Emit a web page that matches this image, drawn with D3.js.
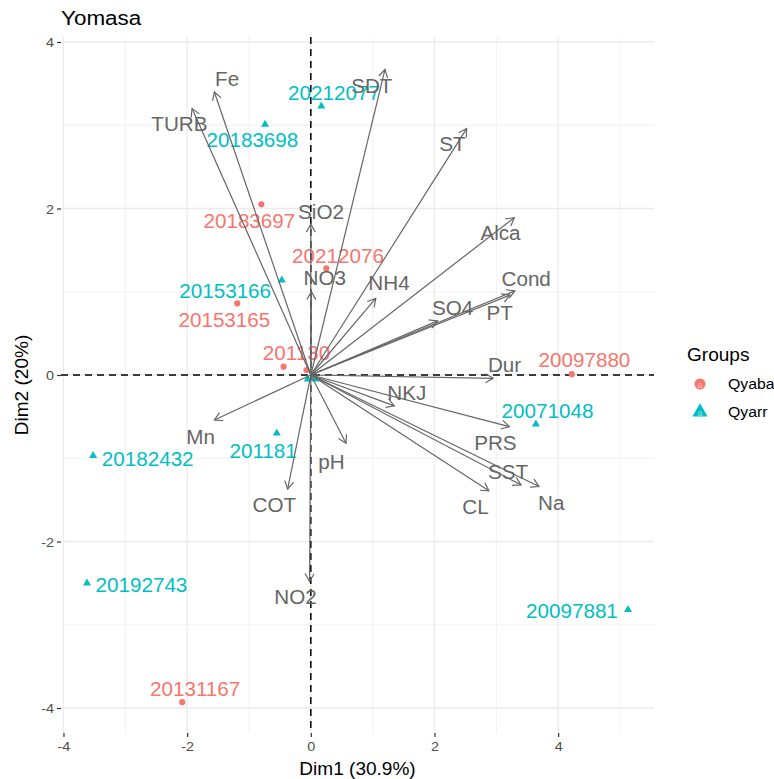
<!DOCTYPE html>
<html>
<head>
<meta charset="utf-8">
<script src="https://cdn.jsdelivr.net/npm/d3@7"></script>
<style>
  html, body { margin: 0; padding: 0; background: #ffffff; }
  svg { display: block; font-family: "Liberation Sans", Arial, sans-serif; }
</style>
</head>
<body>
<svg id="chart" width="774" height="779"></svg>
<script>
// ---- Individuals (PCA scores) ----
const indIds    = ["20212077","20183698","20183697","20212076","20153166","20153165","201130","","","","20097880","20071048","201181","20182432","20192743","20097881","20131167"];
const indGroup  = ["Qyarr","Qyarr","Qyaba","Qyaba","Qyarr","Qyaba","Qyaba","Qyaba","Qyarr","Qyarr","Qyaba","Qyarr","Qyarr","Qyarr","Qyarr","Qyarr","Qyaba"];
const indDim1   = [0.17,-0.74,-0.80,0.25,-0.47,-1.19,-0.44,-0.07,-0.05,0.07,4.22,3.64,-0.55,-3.52,-3.62,5.13,-2.08];
const indDim2   = [3.23,3.01,2.05,1.28,1.14,0.86,0.10,0.06,-0.05,-0.05,0.01,-0.59,-0.70,-0.97,-2.50,-2.82,-3.93];
// repelled label anchors for the individuals (same units as the scores)
const indLabDim1 = [0.375,-0.945,-0.994,0.44,-1.385,-1.398,-0.231,0,0,0,4.425,3.827,-0.771,-2.638,-2.739,4.223,-1.871];
const indLabDim2 = [3.386,2.816,1.851,1.427,1.007,0.658,0.259,0,0,0,0.178,-0.434,-0.911,-1.01,-2.531,-2.832,-3.776];

// ---- Variables (scaled loadings) ----
const varNames  = ["Fe","TURB","SDT","SiO2","ST","Alca","Cond","PT","SO4","NH4","NO3","Dur","NKJ","PRS","SST","Na","CL","Mn","pH","COT","NO2"];
const varDim1   = [-1.56,-1.92,1.20,0.00,2.52,3.29,3.30,3.22,2.05,1.05,0.01,2.95,1.35,3.21,3.40,3.69,2.88,-1.56,0.57,-0.375,-0.02];
const varDim2   = [3.40,3.20,3.67,1.81,2.96,1.89,1.01,0.96,0.65,0.92,1.00,-0.04,-0.37,-0.62,-1.32,-1.34,-1.39,-0.54,-0.82,-1.37,-2.48];
const varLabDim1 = [-1.354,-2.125,0.986,0.165,2.292,3.068,3.483,3.055,2.292,1.264,0.226,3.133,1.551,2.985,3.19,3.887,2.664,-1.781,0.334,-0.59,-0.247];
const varLabDim2 = [3.551,3.008,3.468,1.959,2.772,1.699,1.151,0.746,0.799,1.099,1.159,0.118,-0.214,-0.815,-1.163,-1.535,-1.591,-0.742,-1.043,-1.563,-2.671];

// ---- Axes ----
const xTicks = [-4,-2,0,2,4];
const yTicks = [-4,-2,0,2,4];
const xMinor = [-3,-1,1,3,5];
const yMinor = [-3,-1,1,3];
const groups = ["Qyaba","Qyarr"];
const groupColors = ["#F8766D","#00BFC4"];

const titleText = "Yomasa";
const xTitle = "Dim1 (30.9%)";
const yTitle = "Dim2 (20%)";

// ---- Layout ----
const panel = {left: 61, right: 654, top: 37, bottom: 733};
const SX = 1.07; // horizontal glyph stretch of the text

const svg = d3.select("#chart");
const x = d3.scaleLinear().domain([-4.04, 5.55]).range([panel.left, panel.right]);
const y = d3.scaleLinear().domain([-4.30, 4.06]).range([panel.bottom, panel.top]);
const color = d3.scaleOrdinal().domain(groups).range(groupColors);
const shape = d3.scaleOrdinal().domain(groups).range([d3.symbolCircle, d3.symbolTriangle]);

function addText(g, tx, ty, str, opts) {
  const t = g.append("text")
    .attr("transform", `translate(${tx},${ty}) scale(${SX},1)`)
    .attr("text-anchor", opts.anchor || "middle")
    .attr("dy", opts.dy || "0.35em")
    .attr("font-size", opts.size)
    .attr("fill", opts.fill || "#000")
    .text(str);
  return t;
}

// grid
const grid = svg.append("g");
grid.selectAll(".gxm").data(xMinor).join("line")
  .attr("x1", d => x(d)).attr("x2", d => x(d)).attr("y1", panel.top).attr("y2", panel.bottom)
  .attr("stroke", "#EBEBEB").attr("stroke-width", 0.7);
grid.selectAll(".gym").data(yMinor).join("line")
  .attr("y1", d => y(d)).attr("y2", d => y(d)).attr("x1", panel.left).attr("x2", panel.right)
  .attr("stroke", "#EBEBEB").attr("stroke-width", 0.7);
grid.selectAll(".gx").data(xTicks).join("line")
  .attr("x1", d => x(d)).attr("x2", d => x(d)).attr("y1", panel.top).attr("y2", panel.bottom)
  .attr("stroke", "#EBEBEB").attr("stroke-width", 1.3);
grid.selectAll(".gy").data(yTicks).join("line")
  .attr("y1", d => y(d)).attr("y2", d => y(d)).attr("x1", panel.left).attr("x2", panel.right)
  .attr("stroke", "#EBEBEB").attr("stroke-width", 1.3);

// axes (plain hyphen for negative tick labels)
const fmt = d => String(d);
const xAxis = svg.append("g").attr("transform", `translate(0,${panel.bottom})`)
  .call(d3.axisBottom(x).tickValues(xTicks).tickSize(4).tickPadding(4).tickFormat(fmt));
const yAxis = svg.append("g").attr("transform", `translate(${panel.left},0)`)
  .call(d3.axisLeft(y).tickValues(yTicks).tickSize(4).tickPadding(3).tickFormat(fmt));
[xAxis, yAxis].forEach(a => {
  a.select(".domain").remove();
  a.selectAll(".tick line").attr("stroke", "#333333").attr("stroke-width", 1.2);
  a.selectAll(".tick text").attr("fill", "#4D4D4D").attr("font-size", 13.5)
    .attr("font-family", "Liberation Sans, Arial, sans-serif");
});
xAxis.selectAll(".tick text").attr("transform", `scale(${SX},1)`);
yAxis.selectAll(".tick text").each(function() {
  const t = d3.select(this);
  t.attr("transform", `translate(${-7},0) scale(${SX},1)`).attr("x", 0).attr("dy", "0.35em");
});

// reference lines through the origin
const ref = svg.append("g");
ref.append("line").attr("x1", panel.left).attr("x2", panel.right).attr("y1", y(0)).attr("y2", y(0))
  .attr("stroke", "#000").attr("stroke-width", 1.5).attr("stroke-dasharray", "7,5");
ref.append("line").attr("y1", panel.top).attr("y2", panel.bottom).attr("x1", x(0)).attr("x2", x(0))
  .attr("stroke", "#000").attr("stroke-width", 1.5).attr("stroke-dasharray", "7,5");

// individuals
const inds = indIds.map((id, i) => ({id, g: indGroup[i], d1: indDim1[i], d2: indDim2[i], l1: indLabDim1[i], l2: indLabDim2[i]}));
const pts = svg.append("g");
pts.selectAll("path").data(inds).join("path")
  .attr("transform", d => `translate(${x(d.d1)},${y(d.d2)})`)
  .attr("d", d => d3.symbol().type(shape(d.g)).size(d.g === "Qyaba" ? 30 : 28)())
  .attr("fill", d => color(d.g));
const indLabels = svg.append("g");
inds.filter(d => d.id !== "").forEach(d => {
  addText(indLabels, x(d.l1), y(d.l2), d.id, {size: 19.3, fill: color(d.g)});
});

// variable arrows
const vars = varNames.map((n, i) => ({n, d1: varDim1[i], d2: varDim2[i], l1: varLabDim1[i], l2: varLabDim2[i]}));
const arr = svg.append("g").attr("stroke", "#666666").attr("stroke-width", 1.2).attr("fill", "none");
const headLen = 9, headAng = Math.PI / 6;
vars.forEach(v => {
  const x0 = x(0), y0 = y(0), x1 = x(v.d1), y1 = y(v.d2);
  arr.append("line").attr("x1", x0).attr("y1", y0).attr("x2", x1).attr("y2", y1);
  const a = Math.atan2(y1 - y0, x1 - x0);
  const p = d3.path();
  p.moveTo(x1 - headLen * Math.cos(a - headAng), y1 - headLen * Math.sin(a - headAng));
  p.lineTo(x1, y1);
  p.lineTo(x1 - headLen * Math.cos(a + headAng), y1 - headLen * Math.sin(a + headAng));
  arr.append("path").attr("d", p.toString());
});
const varLabels = svg.append("g");
vars.forEach(v => addText(varLabels, x(v.l1), y(v.l2), v.n, {size: 19.3, fill: "#666666"}));

// titles
addText(svg, panel.left, 18, titleText, {size: 21, anchor: "start", fill: "#000"});
addText(svg, (panel.left + panel.right) / 2, 769, xTitle, {size: 17.8, fill: "#000"});
svg.append("text")
  .attr("transform", `translate(22,${(panel.top + panel.bottom) / 2}) rotate(-90) scale(${SX},1)`)
  .attr("text-anchor", "middle").attr("dy", "0.35em").attr("font-size", 17.8).attr("fill", "#000")
  .text(yTitle);

// legend
const leg = svg.append("g");
addText(leg, 687, 355, "Groups", {size: 17.8, anchor: "start", fill: "#000"});
groups.forEach((g, i) => {
  const cy = 384 + i * 28;
  leg.append("path").attr("transform", `translate(700,${cy})`)
    .attr("d", d3.symbol().type(shape(g)).size(i === 0 ? 95 : 100)()).attr("fill", color(g));
  leg.append("text").attr("x", 700).attr("y", cy + 4).attr("text-anchor", "middle")
    .attr("font-size", 9).attr("fill", "#ffffff").attr("fill-opacity", 0.55).text("a");
  addText(leg, 728, cy, g, {size: 14.8, anchor: "start", fill: "#000"});
});
</script>
</body>
</html>
